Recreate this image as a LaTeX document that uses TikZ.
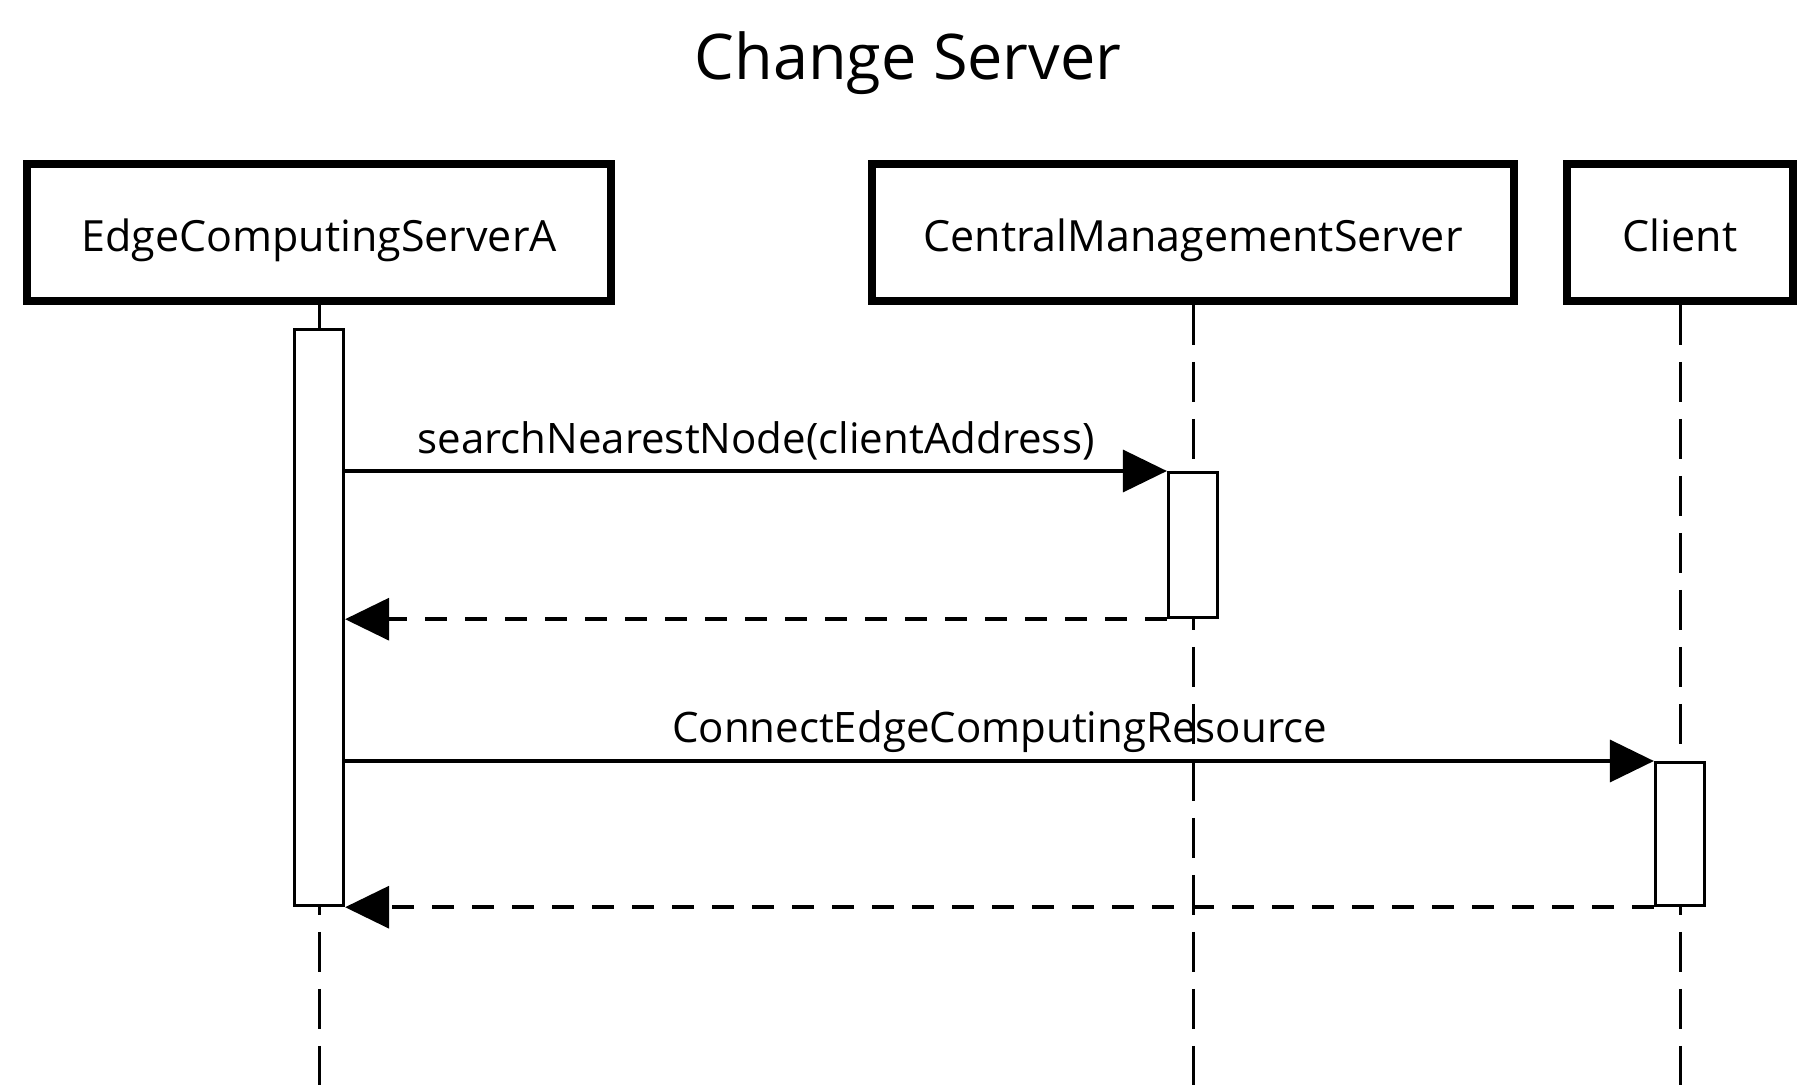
\documentclass[tikz,border=0pt]{standalone}
\usepackage{fontspec}
\setmainfont{Open Sans}
\usetikzlibrary{arrows.meta}

\tikzset{
  actor/.style={draw, line width=7.5pt, fill=white, minimum height=137pt,
    inner sep=0pt, text height=37pt, text depth=0pt, font=\fontsize{43}{50}\selectfont},
  actbar/.style={draw, line width=3.2pt, fill=white, minimum width=49pt, inner sep=0pt},
  lifeline/.style={line width=3pt, dash pattern=on 40pt off 17pt},
  msg/.style={line width=3.5pt, -{Triangle[length=44pt,width=42pt]}},
  reply/.style={msg, dash pattern=on 22pt off 18pt},
  msglabel/.style={font=\fontsize{42}{50}\selectfont, anchor=base, inner sep=0pt}
}

\begin{document}
\begin{tikzpicture}[x=1pt,y=-1pt]
  \useasboundingbox (0,0) rectangle (1816,1085);
  \node[font=\fontsize{63}{75}\selectfont, anchor=base] (title) at (908,79) {Change Server};

  % participants
  \node[actor, minimum width=584pt] (srvA) at (319,232.5) {EdgeComputingServerA};
  \node[actor, minimum width=642pt] (cms) at (1193,232.5) {CentralManagementServer};
  \node[actor, minimum width=226pt] (client) at (1680,232.5) {Client};

  \foreach \who in {srvA,cms,client}
    \draw[lifeline] (\who.south) -- (\who.south |- 0,1085);

  % activations
  \node[actbar, minimum height=576pt, anchor=north] (barA) at (319,328) {};
  \node[actbar, minimum height=145pt, anchor=north] (barC) at (1193,471) {};
  \node[actbar, minimum height=143pt, anchor=north] (barCl) at (1680,761) {};

  % messages
  \draw[msg] (barA.east |- barC.north) -- node[msglabel, yshift=18pt] (m1) {searchNearestNode(clientAddress)} (barC.north west);
  \draw[reply] (barC.south west) -- (barA.east |- barC.south);
  \draw[msg] (barA.east |- barCl.north) -- node[msglabel, yshift=19pt] (m2) {ConnectEdgeComputingResource} (barCl.north west);
  \draw[reply] (barCl.south west) -- (barA.east |- barCl.south);
\end{tikzpicture}
\end{document}
